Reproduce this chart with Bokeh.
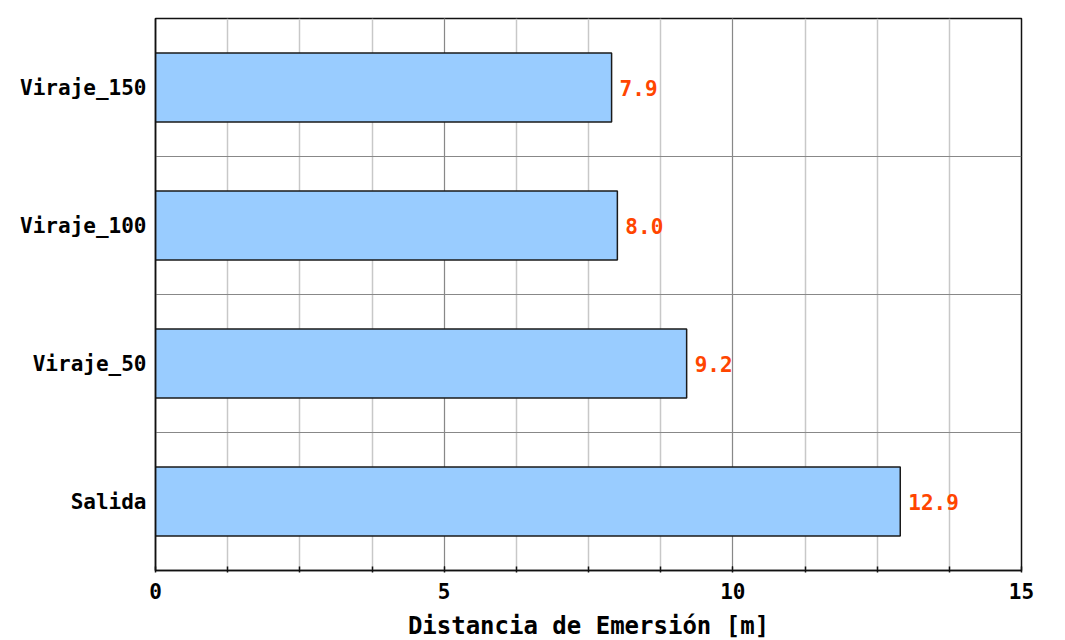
from bokeh.plotting import figure
from bokeh.models import ColumnDataSource, Span, Range1d, FactorRange
from bokeh.core.properties import value
from bokeh.embed import file_html
from bokeh.resources import INLINE

categories = ["Salida", "Viraje_50", "Viraje_100", "Viraje_150"]
distances = [12.9, 9.2, 8.0, 7.9]
labels = [f"{v:.1f}" for v in distances]

FONT = "DejaVu Sans Mono"

src = ColumnDataSource(dict(cat=categories, val=distances, lab=labels))

p = figure(
    y_range=FactorRange(*categories, range_padding=0),
    x_range=Range1d(0, 15),
    frame_width=866, frame_height=552,
    min_border_left=155, min_border_top=18, min_border_right=30, min_border_bottom=70,
    output_backend="svg", toolbar_location=None,
)

p.background_fill_color = "white"
p.border_fill_color = "white"
p.outline_line_color = "#111111"
p.outline_line_width = 1.5

# grids
p.xgrid.grid_line_color = "#888888"
p.xgrid.grid_line_width = 1
p.xgrid.minor_grid_line_color = "#c8c8c8"
p.xgrid.minor_grid_line_width = 1.5
p.ygrid.grid_line_color = None
for i in range(1, len(categories)):
    p.add_layout(Span(location=i, dimension="width", line_color="#888888",
                      line_width=1, level="underlay"))

p.hbar(y="cat", right="val", left=0, height=0.5, source=src,
       fill_color="#99ccff", line_color="#1a1a1a", line_width=1.5)

p.text(x="val", y="cat", text="lab", source=src, x_offset=8,
       text_baseline="middle", text_align="left",
       text_color="#ff4500", text_font=value(FONT), text_font_style="bold",
       text_font_size="21px")

# x axis
p.xaxis.ticker.desired_num_ticks = 4
p.xaxis.ticker.num_minor_ticks = 4
p.xaxis.axis_line_color = "#111111"
p.xaxis.axis_line_width = 1.5
p.xaxis.major_tick_in = 4
p.xaxis.major_tick_out = 0
p.xaxis.minor_tick_in = 4
p.xaxis.minor_tick_out = 2
p.xaxis.minor_tick_line_color = "#111111"
p.xaxis.minor_tick_line_width = 1.5
p.xaxis.major_label_text_font = FONT
p.xaxis.major_label_text_font_style = "bold"
p.xaxis.major_label_text_font_size = "21px"
p.xaxis.major_label_text_color = "black"
p.xaxis.major_label_standoff = 10
p.xaxis.axis_label = "Distancia de Emersión [m]"
p.xaxis.axis_label_text_font = FONT
p.xaxis.axis_label_text_font_style = "bold"
p.xaxis.axis_label_text_font_size = "24px"
p.xaxis.axis_label_text_color = "black"
p.xaxis.axis_label_standoff = 10

# y axis
p.yaxis.axis_line_color = "#111111"
p.yaxis.axis_line_width = 1.5
p.yaxis.major_tick_line_color = None
p.yaxis.minor_tick_line_color = None
p.yaxis.major_label_text_font = FONT
p.yaxis.major_label_text_font_style = "bold"
p.yaxis.major_label_text_font_size = "21px"
p.yaxis.major_label_text_color = "black"
p.yaxis.major_label_standoff = 3

open("out.html", "w").write(file_html(p, INLINE))
